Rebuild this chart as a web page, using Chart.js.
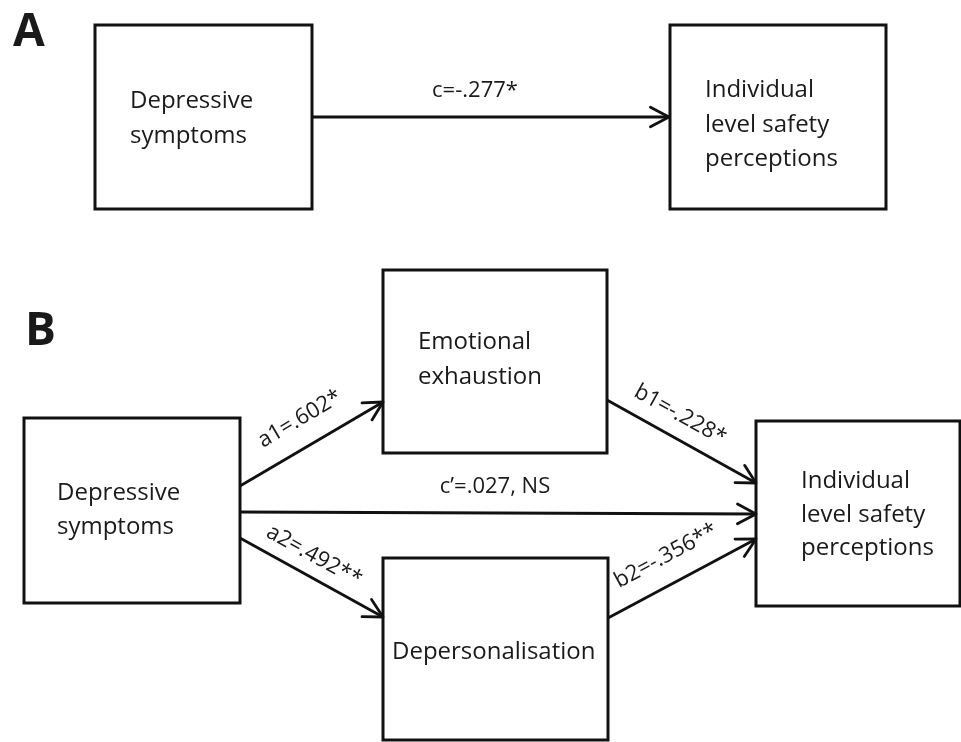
<!DOCTYPE html>
<html>
<head>
<meta charset="utf-8">
<script src="https://cdn.jsdelivr.net/npm/chart.js@4"></script>
<style>
    html, body { margin: 0; padding: 0; background: #ffffff; }
    canvas { display: block; }
</style>
</head>
<body>
<canvas id="pathChart" width="961" height="742"></canvas>
<script>
// Panel letters
var panelNames = ["A", "B"];

// Boxes (variables) of the two models
var nodeLabels = [
    ["Depressive", "symptoms"],
    ["Individual", "level safety", "perceptions"],
    ["Depressive", "symptoms"],
    ["Emotional", "exhaustion"],
    ["Individual", "level safety", "perceptions"],
    ["Depersonalisation"]
];

// Paths and their coefficients
var pathNames = ["c", "a1", "b1", "c\u2019", "a2", "b2"];
var pathCoefs = [-0.277, 0.602, -0.228, 0.027, 0.492, -0.356];
var pathSig = ["*", "*", "*", ", NS", "**", "**"];

// ---- layout (diagram units = pixels of the 961x742 picture) ----
var panelPos = [[13, 46], [25, 345]];
var boxRects = [
    [95, 25, 312, 209],
    [670, 25, 886, 209],
    [24, 418, 240, 603],
    [383, 270, 607, 453],
    [756, 421, 960, 606],
    [383, 558, 608, 740]
];
var textPos = [
    [130, 108, 35],
    [705, 97, 34.5],
    [57, 500, 34],
    [418, 349, 35],
    [801, 488, 33.5],
    [392, 659, 0]
];
var arrows = [
    [312, 117, 669, 117],
    [240, 486, 383, 402],
    [607, 400, 756, 483],
    [240, 512, 756, 514],
    [240, 538, 383, 617],
    [608, 618, 756, 539]
];
// label centre x, centre y, rotated to follow the arrow?
var labelPos = [
    [475, 91, false],
    [300, 419, true],
    [680, 415, true],
    [495, 487, false],
    [314, 556, true],
    [666, 556, true]
];

function fmtCoef(v) {
    var s = Math.abs(v).toFixed(3).replace(/^0/, "");
    return (v < 0 ? "-" : "") + s;
}

var datasets = [];

boxRects.forEach(function (r) {
    datasets.push({
        data: [
            { x: r[0], y: r[1] }, { x: r[2], y: r[1] },
            { x: r[2], y: r[3] }, { x: r[0], y: r[3] },
            { x: r[0], y: r[1] }
        ],
        showLine: true,
        borderColor: "#111111",
        borderWidth: 3,
        borderJoinStyle: "miter",
        borderCapStyle: "square",
        pointRadius: 0,
        clip: false
    });
});

arrows.forEach(function (a) {
    datasets.push({
        data: [{ x: a[0], y: a[1] }, { x: a[2], y: a[3] }],
        showLine: true,
        borderColor: "#111111",
        borderWidth: 2.8,
        pointRadius: 0,
        clip: false
    });
    // open arrow head
    var ang = Math.atan2(a[3] - a[1], a[2] - a[0]);
    var len = 21, spread = 28 * Math.PI / 180;
    datasets.push({
        data: [
            { x: a[2] - len * Math.cos(ang - spread), y: a[3] - len * Math.sin(ang - spread) },
            { x: a[2], y: a[3] },
            { x: a[2] - len * Math.cos(ang + spread), y: a[3] - len * Math.sin(ang + spread) }
        ],
        showLine: true,
        borderColor: "#111111",
        borderWidth: 2.8,
        borderJoinStyle: "round",
        borderCapStyle: "round",
        pointRadius: 0,
        clip: false
    });
});

var textPlugin = {
    id: "diagramText",
    afterDatasetsDraw: function (chart) {
        var ctx = chart.ctx;
        var xs = chart.scales.x, ys = chart.scales.y;
        ctx.save();
        ctx.fillStyle = "#1a1a1a";

        // panel letters
        ctx.font = "bold 46px 'Open Sans'";
        ctx.textAlign = "left";
        ctx.textBaseline = "alphabetic";
        panelNames.forEach(function (p, i) {
            ctx.fillText(p, xs.getPixelForValue(panelPos[i][0]), ys.getPixelForValue(panelPos[i][1]));
        });

        // node texts
        ctx.font = "24px 'Open Sans'";
        nodeLabels.forEach(function (lines, i) {
            var t = textPos[i];
            lines.forEach(function (line, j) {
                ctx.fillText(line, xs.getPixelForValue(t[0]), ys.getPixelForValue(t[1] + j * t[2]));
            });
        });

        // path labels
        ctx.font = "22px 'Open Sans'";
        ctx.textAlign = "center";
        ctx.textBaseline = "middle";
        pathNames.forEach(function (n, i) {
            var txt = n + "=" + fmtCoef(pathCoefs[i]) + pathSig[i];
            var lp = labelPos[i], a = arrows[i];
            var px = xs.getPixelForValue(lp[0]), py = ys.getPixelForValue(lp[1]);
            ctx.save();
            ctx.translate(px, py);
            if (lp[2]) {
                ctx.rotate(Math.atan2(a[3] - a[1], a[2] - a[0]));
            }
            ctx.fillText(txt, 0, 0);
            ctx.restore();
        });
        ctx.restore();
    }
};

var chart = new Chart(document.getElementById("pathChart").getContext("2d"), {
    type: "scatter",
    data: { datasets: datasets },
    options: {
        responsive: false,
        animation: false,
        events: [],
        layout: { padding: 0 },
        plugins: {
            legend: { display: false },
            tooltip: { enabled: false },
            title: { display: false }
        },
        scales: {
            x: { type: "linear", min: 0, max: 961, display: false },
            y: { type: "linear", min: 0, max: 742, reverse: true, display: false }
        }
    },
    plugins: [textPlugin]
});
</script>
</body>
</html>
